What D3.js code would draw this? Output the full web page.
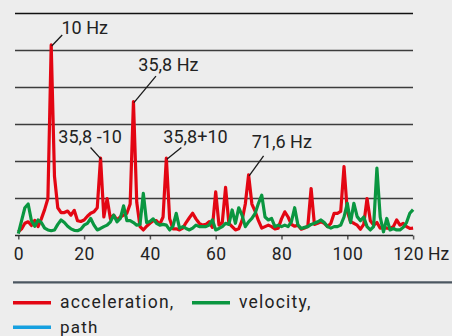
<!DOCTYPE html>
<html>
<head>
<meta charset="utf-8">
<script src="https://cdn.jsdelivr.net/npm/d3@7"></script>
<style>
  html, body { margin: 0; padding: 0; background: #ededed; }
  svg { display: block; }
  text { font-family: Roboto, "Noto Sans", sans-serif; fill: #222; }
</style>
</head>
<body>
<svg id="chart" width="452" height="336"></svg>
<script>
// ---- data ----
const frequency = d3.range(0, 121); // Hz, 1 Hz steps
const acceleration = [
  0.10, 0.18, 0.33, 0.37, 0.27, 0.41, 0.24, 0.45, 0.70, 1.00,
  5.15, 1.60, 0.75, 0.62, 0.62, 0.66, 0.55, 0.68, 0.40, 0.38,
  0.42, 0.52, 0.60, 0.64, 0.75, 2.09, 0.50, 1.00, 0.45, 0.55,
  0.42, 0.50, 0.55, 0.60, 0.85, 3.62, 0.90, 0.24, 0.15, 0.25,
  0.33, 0.40, 0.40, 0.30, 0.50, 2.09, 0.45, 0.18, 0.18, 0.15,
  0.20, 0.35, 0.48, 0.60, 0.45, 0.33, 0.28, 0.30, 0.37, 0.22,
  1.18, 0.28, 0.35, 1.30, 0.33, 0.24, 0.15, 0.18, 0.40, 0.85,
  1.64, 0.85, 0.65, 0.40, 0.20, 0.24, 0.28, 0.24, 0.18, 0.20,
  0.45, 0.64, 0.50, 0.30, 0.25, 0.28, 0.17, 0.20, 0.25, 1.27,
  0.30, 0.33, 0.37, 0.33, 0.24, 0.33, 0.60, 0.60, 0.65, 1.86,
  0.65, 0.37, 0.33, 0.28, 0.17, 0.30, 1.00, 0.40, 0.28, 0.35,
  0.20, 0.22, 0.20, 0.19, 0.24, 0.42, 0.28, 0.33, 0.24, 0.19,
  0.20
];
const velocity = [
  0.05, 0.40, 0.75, 0.85, 0.40, 0.25, 0.42, 0.35, 0.20, 0.15,
  0.13, 0.15, 0.30, 0.42, 0.35, 0.25, 0.18, 0.14, 0.13, 0.17,
  0.28, 0.33, 0.46, 0.28, 0.15, 0.19, 0.24, 0.28, 0.37, 0.55,
  0.37, 0.46, 0.80, 0.40, 0.40, 0.35, 0.28, 0.30, 1.14, 0.35,
  0.38, 0.45, 0.33, 0.28, 0.30, 0.28, 0.15, 0.25, 0.60, 0.20,
  0.24, 0.19, 0.15, 0.20, 0.28, 0.24, 0.24, 0.24, 0.28, 0.42,
  0.15, 0.19, 0.24, 0.33, 0.30, 0.69, 0.33, 0.75, 0.55, 0.24,
  0.37, 0.46, 0.60, 0.87, 1.09, 0.50, 0.42, 0.46, 0.24, 0.28,
  0.24, 0.28, 0.24, 0.37, 0.75, 0.28, 0.19, 0.22, 0.24, 0.30,
  0.33, 0.37, 0.42, 0.35, 0.24, 0.20, 0.24, 0.24, 0.28, 0.50,
  0.87, 0.35, 0.87, 0.51, 0.40, 0.50, 0.24, 0.15, 0.24, 1.82,
  0.50, 0.10, 0.46, 0.15, 0.19, 0.15, 0.15, 0.22, 0.35, 0.60,
  0.70
];
const xTicks = [0, 20, 40, 60, 80, 100, 120];
const xTickLabels = ["0", "20", "40", "60", "80", "100", "120"];
const yGrid = [1, 2, 3, 4, 5, 6];
const unitLabel = "Hz";
const annotations = [
  { text: "10 Hz",    f: 10,  v: 5.15 },
  { text: "35,8 Hz",  f: 35,  v: 3.62 },
  { text: "35,8 -10", f: 25,  v: 2.09 },
  { text: "35,8+10",  f: 45,  v: 2.09 },
  { text: "71,6 Hz",  f: 70,  v: 1.64 }
];
const seriesNames = ["acceleration,", "velocity,", "path"];
const seriesColors = ["#e30613", "#0a9640", "#16a0e0"];

// ---- layout ----
const svg = d3.select("#chart");
const x = d3.scaleLinear().domain([0, 120]).range([18.3, 413.1]);
const y = d3.scaleLinear().domain([0, 6]).range([235.5, 13.5]);
const gridX0 = 15, gridX1 = 413;

// gridlines
svg.append("g").selectAll("line").data(yGrid).join("line")
  .attr("x1", gridX0).attr("x2", gridX1)
  .attr("y1", d => y(d)).attr("y2", d => y(d))
  .attr("stroke", d => d === 6 ? "#111" : "#3c3c3c")
  .attr("stroke-width", 1.5);

// x axis
const xAxis = d3.axisBottom(x).tickValues(xTicks)
  .tickFormat((d, i) => xTickLabels[i]).tickSize(4).tickSizeOuter(0);
const gx = svg.append("g").attr("transform", `translate(0,${y(0)})`).call(xAxis);
gx.select(".domain").remove();
gx.selectAll(".tick line").attr("stroke", "#555").attr("stroke-width", 1.5);
gx.selectAll(".tick text")
  .attr("y", 24).attr("dy", 0)
  .style("font-size", "17.5px").style("letter-spacing", "0.4px")
  .attr("fill", "#222");
gx.selectAll(".tick text").filter(d => d === 120).attr("dx", -5);
svg.append("line")
  .attr("x1", gridX0).attr("x2", gridX1)
  .attr("y1", y(0)).attr("y2", y(0))
  .attr("stroke", "#2a2a2a").attr("stroke-width", 1.5);
svg.append("text").attr("x", 428).attr("y", y(0) + 24)
  .style("font-size", "17.5px").text(unitLabel);

// series lines
const line = d3.line().x((d, i) => x(frequency[i])).y(d => y(d)).curve(d3.curveLinear);
svg.append("path").datum(acceleration).attr("d", line)
  .attr("fill", "none").attr("stroke", seriesColors[0])
  .attr("stroke-width", 3.2).attr("stroke-linejoin", "round");
svg.append("path").datum(velocity).attr("d", line)
  .attr("fill", "none").attr("stroke", seriesColors[1])
  .attr("stroke-width", 3.2).attr("stroke-linejoin", "round");

// annotations (leader offsets and text positions)
const annLayout = [
  { lx: 11, ly: -10, tx: 61.5, ty: 34.3 },
  { lx: 22.5, ly: -25.5, tx: 138.3, ty: 71 },
  { lx: -10, ly: -10.7, tx: 58.3, ty: 142.7 },
  { lx: 15, ly: -10.7, tx: 163.3, ty: 142.7 },
  { lx: 15, ly: -19, tx: 251.7, ty: 148.3 }
];
const ag = svg.append("g");
annotations.forEach((a, i) => {
  const L = annLayout[i];
  const px = x(a.f), py = y(a.v);
  ag.append("line").attr("x1", px + 0.5).attr("y1", py + 1)
    .attr("x2", px + L.lx).attr("y2", py + L.ly)
    .attr("stroke", "#1a1a1a").attr("stroke-width", 1.3);
  ag.append("text").attr("x", L.tx).attr("y", L.ty)
    .style("font-size", "18px").text(a.text);
});

// legend
svg.append("line").attr("x1", 13).attr("x2", 452).attr("y1", 282.3).attr("y2", 282.3)
  .attr("stroke", "#4b5660").attr("stroke-width", 2.2);
const legendPos = [
  { x: 13, y: 302.7 },
  { x: 192, y: 302.7 },
  { x: 13, y: 327.3 }
];
seriesNames.forEach((name, i) => {
  const p = legendPos[i];
  svg.append("line").attr("x1", p.x).attr("x2", p.x + 38)
    .attr("y1", p.y).attr("y2", p.y)
    .attr("stroke", seriesColors[i]).attr("stroke-width", 3.5);
  svg.append("text").attr("x", p.x + 47).attr("y", p.y + 5.5)
    .style("font-size", i === 2 ? "17px" : "17.5px")
    .style("letter-spacing", "1.2px").text(name);
});
</script>
</body>
</html>
